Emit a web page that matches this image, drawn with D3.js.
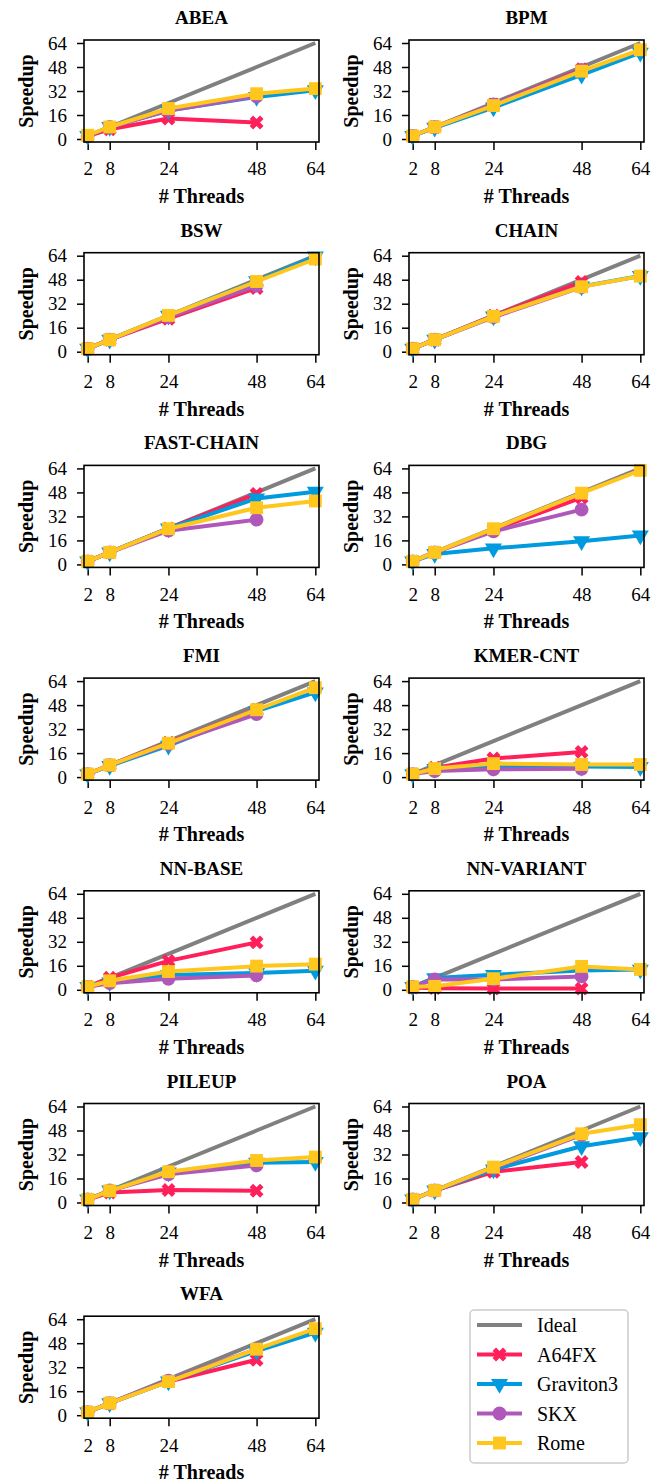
<!DOCTYPE html>
<html>
<head>
<meta charset="utf-8">
<script src="https://cdn.jsdelivr.net/npm/d3@7"></script>
<style>
  body { margin: 0; background: #fff; }
</style>
</head>
<body>
<script>
// thread counts on the x axis, speedup ticks on the y axis
const threads = [2, 8, 24, 48, 64];
const yTicks = [0, 16, 32, 48, 64];
const panels = ["ABEA", "BPM", "BSW", "CHAIN", "FAST-CHAIN", "DBG", "FMI",
                "KMER-CNT", "NN-BASE", "NN-VARIANT", "PILEUP", "POA", "WFA"];

const ideal = [2, 8, 24, 48, 64];
// A64FX and SKX stop at 48 threads, Graviton3 and Rome go to 64
const a64fx = [
  [2, 6.5, 13.7, 11],
  [2, 8, 23, 46.5],
  [2, 8, 22, 42.5],
  [2, 8, 24, 46.5],
  [2, 8, 24, 47],
  [2, 8, 23, 44.5],
  [2, 8, 23, 45],
  [2, 6.3, 12.4, 16.8],
  [2, 8, 19.3, 31.6],
  [1.5, 1.1, 0.8, 0.8],
  [2, 6.6, 8.3, 7.8],
  [2, 8, 20.5, 27],
  [2, 8, 22.5, 37]
];
const graviton3 = [
  [2, 8, 19, 28, 32.5],
  [2, 7.5, 21, 42.8, 57.5],
  [2, 8, 24, 47, 63.5],
  [2, 8, 23.5, 43.5, 50.5],
  [2, 8, 24, 44, 48.5],
  [2, 7, 10.7, 15.5, 19.3],
  [2, 7.5, 21, 44, 56.5],
  [2, 5.5, 7, 7, 6.8],
  [2, 5, 9.8, 11.2, 12.7],
  [2, 7.8, 10, 12.8, 13.5],
  [2, 8, 20, 26.5, 27],
  [2, 8, 22, 37.5, 43.5],
  [2, 8, 22.5, 42.8, 55]
];
const skx = [
  [2, 8, 19, 28.5],
  [2, 8, 23, 46],
  [2, 8, 23, 44],
  [2, 8, 23, 43],
  [2, 8, 22.5, 29.8],
  [2, 8, 22, 36.5],
  [2, 8, 22, 42],
  [2, 4, 5.2, 5.5],
  [2, 4.4, 7.3, 9.6],
  [2, 7, 6.8, 8.9],
  [2, 8, 18.8, 24.7],
  [2, 8, 23, 45],
  [2, 8, 23, 44]
];
const rome = [
  [2.5, 8, 20.3, 30.2, 33.6],
  [2, 8, 22.3, 45.2, 59.5],
  [2, 8, 24.2, 46.8, 61.8],
  [2, 8, 23.6, 43.3, 50.4],
  [2, 8, 23.8, 37.8, 42.3],
  [2, 8, 23.8, 47.5, 62.7],
  [2, 8, 22.6, 44.9, 59.6],
  [2, 5.7, 9, 8.4, 8.4],
  [2, 6, 12.2, 15.8, 17.1],
  [2, 2.3, 7.4, 15.6, 13.6],
  [2, 7.8, 20.5, 28, 30.3],
  [2, 8, 23.6, 45.8, 51.9],
  [2, 8, 22.4, 44, 57.7]
];

const series = [
  {name: "A64FX", color: "#ff1f5b", values: a64fx, symbol: d3.symbolCross, rotate: 45, size: 120},
  {name: "Graviton3", color: "#009ade", values: graviton3, symbol: d3.symbolTriangle, rotate: 180, size: 125},
  {name: "SKX", color: "#af58ba", values: skx, symbol: d3.symbolCircle, rotate: 0, size: 150},
  {name: "Rome", color: "#ffc61e", values: rome, symbol: d3.symbolSquare, rotate: 0, size: 165}
];

const serif = '"Liberation Serif", "Times New Roman", serif';

let w = 666;
let h = 1483;
let plotW = 235;
let plotH = 102;
let colX = [84, 409];
let rowY = i => 40 + i * 212.7;

let svg = d3.select("body")
            .append("svg")
            .attr("width", w)
            .attr("height", h)
            .style("font-family", serif);
svg.append("rect").attr("width", w).attr("height", h).attr("fill", "#fff");

let x = d3.scaleLinear([1, 65], [0, plotW]);
let y = d3.scaleLinear([-2, 66], [plotH, 0]);
let line = d3.line().x(d => x(d[0])).y(d => y(d[1]));

const symbolPath = s => d3.symbol(s.symbol, s.size)();

panels.forEach((name, i) => {
    let g = svg.append("g")
               .attr("transform", `translate(${colX[i % 2]},${rowY(Math.floor(i / 2))})`);

    let xAxis = d3.axisBottom(x).tickValues(threads).tickSize(8).tickSizeOuter(0).tickPadding(12);
    let yAxis = d3.axisLeft(y).tickValues(yTicks).tickSize(7).tickSizeOuter(0).tickPadding(10);

    let gx = g.append("g").attr("transform", `translate(0,${plotH})`).call(xAxis);
    let gy = g.append("g").call(yAxis);
    [gx, gy].forEach(a => {
        a.attr("font-size", 19);
        a.select(".domain").remove();
        a.selectAll("line").attr("stroke", "#000").attr("stroke-width", 1.5);
        a.selectAll("text").attr("fill", "#000").style("font-family", serif);
    });

    // ideal scaling
    g.append("path")
     .datum(threads.map((t, k) => [t, ideal[k]]))
     .attr("d", line)
     .attr("fill", "none")
     .attr("stroke", "#808080")
     .attr("stroke-width", 4);

    series.forEach(s => {
        let pts = s.values[i].map((v, k) => [threads[k], v]);
        g.append("path")
         .datum(pts)
         .attr("d", line)
         .attr("fill", "none")
         .attr("stroke", s.color)
         .attr("stroke-width", 4)
         .attr("stroke-linejoin", "round");
        g.selectAll(null)
         .data(pts)
         .enter()
         .append("path")
         .attr("d", symbolPath(s))
         .attr("transform", d => `translate(${x(d[0])},${y(d[1])}) rotate(${s.rotate})`)
         .attr("fill", s.color);
    });

    g.append("rect")
     .attr("width", plotW)
     .attr("height", plotH)
     .attr("fill", "none")
     .attr("stroke", "#000")
     .attr("stroke-width", 1.6);

    g.append("text")
     .text(name)
     .attr("x", plotW / 2)
     .attr("y", -16)
     .attr("text-anchor", "middle")
     .attr("font-weight", "bold")
     .attr("font-size", 19);

    g.append("text")
     .text("# Threads")
     .attr("x", plotW / 2)
     .attr("y", plotH + 61)
     .attr("text-anchor", "middle")
     .attr("font-weight", "bold")
     .attr("font-size", 20);

    g.append("text")
     .text("Speedup")
     .attr("transform", `translate(-51,${plotH / 2}) rotate(-90)`)
     .attr("text-anchor", "middle")
     .attr("font-weight", "bold")
     .attr("font-size", 20);
});

// legend
let legend = svg.append("g").attr("transform", "translate(470,1310)");
legend.append("rect")
      .attr("width", 158)
      .attr("height", 153)
      .attr("rx", 4)
      .attr("fill", "#fff")
      .attr("stroke", "#cccccc")
      .attr("stroke-width", 1.5);

let entries = [{name: "Ideal", color: "#808080"}].concat(series);
entries.forEach((s, k) => {
    let ly = 15 + k * 29.5;
    legend.append("line")
          .attr("x1", 7).attr("x2", 52)
          .attr("y1", ly).attr("y2", ly)
          .attr("stroke", s.color)
          .attr("stroke-width", 4);
    if (s.symbol) {
        legend.append("path")
              .attr("d", symbolPath(s))
              .attr("transform", `translate(29.5,${ly}) rotate(${s.rotate})`)
              .attr("fill", s.color);
    }
    legend.append("text")
          .text(s.name)
          .attr("x", 67)
          .attr("y", ly)
          .attr("dy", "0.35em")
          .attr("font-size", 20);
});
</script>
</body>
</html>
